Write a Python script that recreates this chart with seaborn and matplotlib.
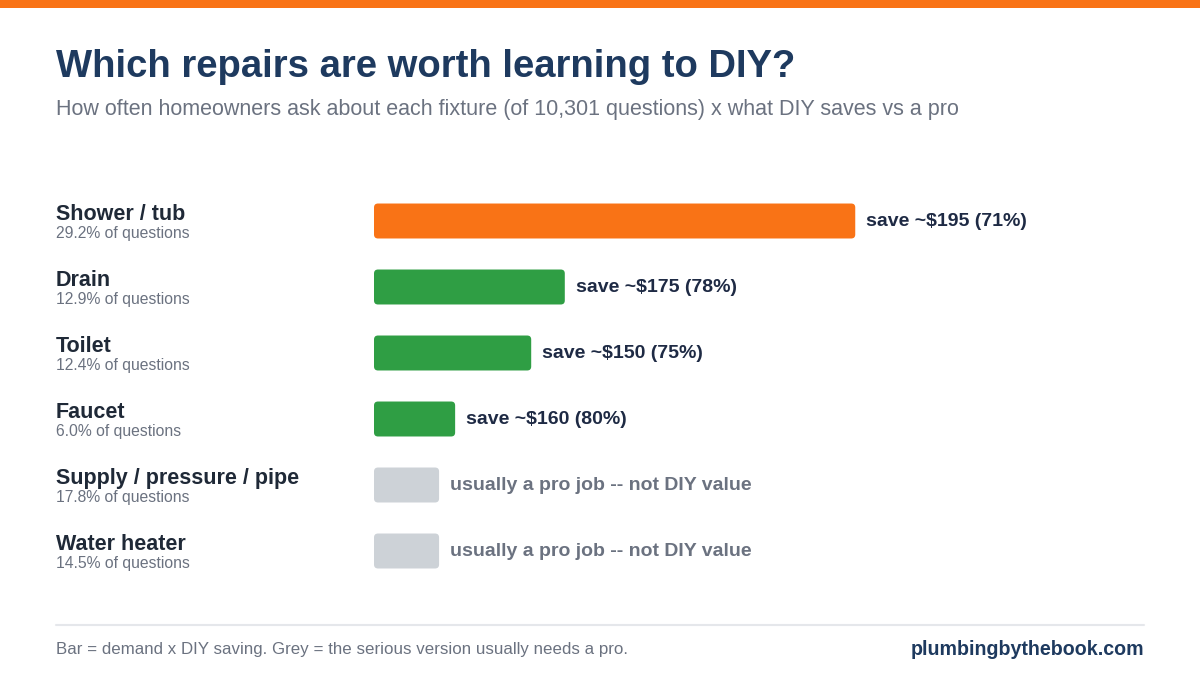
import matplotlib
matplotlib.use("Agg")
import matplotlib.pyplot as plt
import matplotlib.transforms as mtransforms
from matplotlib.patches import FancyBboxPatch, Rectangle
from matplotlib.lines import Line2D
import seaborn as sns
import pandas as pd

# Data
fixtures = ["Shower / tub", "Drain", "Toilet", "Faucet",
            "Supply / pressure / pipe", "Water heater"]
share_pct = [29.2, 12.9, 12.4, 6.0, 17.8, 14.5]
saving_usd = [195, 175, 150, 160, None, None]
saving_pct = [71, 78, 75, 80, None, None]
pro_bar_value = 770  # grey placeholder length for pro-only jobs

ORANGE = "#F97316"
GREEN = "#2F9E44"
GREY = "#CDD2D7"
NAVY = "#1E3A5F"
DARK = "#1F2937"
MUTED = "#6B7280"

values, colours, labels = [], [], []
for i, f in enumerate(fixtures):
    if saving_usd[i] is None:
        values.append(pro_bar_value)
        colours.append(GREY)
        labels.append("usually a pro job -- not DIY value")
    else:
        values.append(share_pct[i] * saving_usd[i])
        colours.append(ORANGE if i == 0 else GREEN)
        labels.append(f"save ~${saving_usd[i]} ({saving_pct[i]}%)")

df = pd.DataFrame({"fixture": fixtures, "score": values})

sns.set_theme(style="white")
plt.rcParams["font.family"] = ["Liberation Sans", "DejaVu Sans"]

fig = plt.figure(figsize=(12, 6.88), dpi=100)
fig.patch.set_facecolor("white")
W, H = 1200, 688

ax = fig.add_axes([374 / W, 1 - 584 / H, 770 / W, 396 / H])
sns.barplot(data=df, y="fixture", x="score", hue="fixture",
            palette=colours, orient="h", width=0.53, ax=ax,
            legend=False, saturation=1)

xmax = max(values) * 1.6
ax.set_xlim(0, xmax)
ax.set_ylim(5.5, -0.5)
ax.axis("off")

# rounded corners: swap each rectangle for a fancy box
rx = 4 * xmax / 770
ry = 4 * 6 / 396
for p in list(ax.patches):
    x0, y0 = p.get_x(), p.get_y()
    w, h = p.get_width(), p.get_height()
    fc = p.get_facecolor()
    p.remove()
    ax.add_patch(FancyBboxPatch((x0, y0), w, h,
                                boxstyle=f"round,pad=0,rounding_size={rx}",
                                mutation_aspect=ry / rx,
                                facecolor=fc, edgecolor="none"))

# value labels
for i, (v, lab) in enumerate(zip(values, labels)):
    is_pro = saving_usd[i] is None
    ax.annotate(lab, xy=(v, i), xytext=(8, 0), textcoords="offset points",
                va="center", ha="left", fontsize=14, fontweight="bold",
                color=MUTED if is_pro else "#1E2A44")

# category labels on the left
blend = mtransforms.blended_transform_factory(fig.transFigure, ax.transData)
for i, f in enumerate(fixtures):
    ax.annotate(f, xy=(56 / W, i), xycoords=blend, xytext=(0, 1),
                textcoords="offset points", va="baseline", ha="left",
                fontsize=15.5, fontweight="bold", color=DARK, annotation_clip=False)
    ax.annotate(f"{share_pct[i]:.1f}% of questions", xy=(56 / W, i),
                xycoords=blend, xytext=(0, -12), textcoords="offset points",
                va="baseline", ha="left", fontsize=11.3, color=MUTED,
                annotation_clip=False)

# top accent strip
fig.add_artist(Rectangle((0, 1 - 8 / H), 1, 8 / H, transform=fig.transFigure,
                         facecolor=ORANGE, edgecolor="none"))

fig.text(56 / W, 1 - 77 / H, "Which repairs are worth learning to DIY?",
         fontsize=27.5, fontweight="bold", color=NAVY, va="baseline")
fig.text(56 / W, 1 - 115 / H,
         "How often homeowners ask about each fixture (of 10,301 questions) x what DIY saves vs a pro",
         fontsize=15.5, color=MUTED, va="baseline")

# footer
fig.add_artist(Line2D([56 / W, 1144 / W], [1 - 625 / H, 1 - 625 / H],
                      transform=fig.transFigure, color="#E5E7EB", lw=1.5))
fig.text(56 / W, 1 - 654 / H,
         "Bar = demand x DIY saving. Grey = the serious version usually needs a pro.",
         fontsize=12.2, color=MUTED, va="baseline")
fig.text(1144 / W, 1 - 655 / H, "plumbingbythebook.com", fontsize=14.1,
         fontweight="bold", color=NAVY, va="baseline", ha="right")

fig.savefig("out.png", dpi=100, facecolor="white")
